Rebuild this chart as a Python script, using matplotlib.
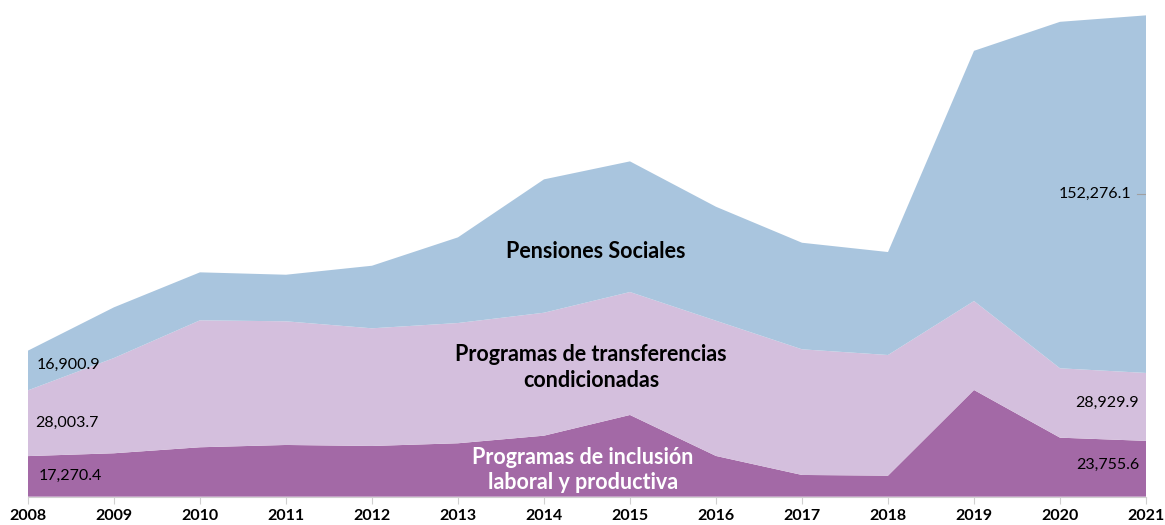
import matplotlib.pyplot as plt
import numpy as np

years = [2008, 2009, 2010, 2011, 2012, 2013, 2014, 2015, 2016, 2017, 2018, 2019, 2020, 2021]
# millones de soles
inclusion = [17270.4, 18475, 21030, 22009, 21583, 22732, 25968, 34780, 17326, 9238, 8940, 45422, 25116, 23755.6]
transferencias = [28003.7, 40570, 54064, 52659, 50105, 51212, 52361, 52361, 57597, 53510, 51382, 37888, 29544, 28929.9]
pensiones = [16900.9, 21583, 20433, 19837, 26649, 36483, 56788, 55639, 48530, 45380, 43847, 106552, 147548, 152276.1]

colors = ['#A369A6', '#D4BFDD', '#A9C5DE']

plt.rcParams['font.family'] = ['Lato', 'DejaVu Sans']

fig = plt.figure(figsize=(11.65, 5.25), dpi=100)
ax = fig.add_axes([0.024, 0.054, 0.9597, 0.946])

ax.stackplot(years, inclusion, transferencias, pensiones, colors=colors, linewidth=0)

ax.set_xlim(years[0], years[-1])
ax.set_ylim(0, 211500)
ax.set_xticks(years)
ax.set_xticklabels([str(y) for y in years], fontsize=11.5, fontweight='bold')
ax.set_yticks([])
for s in ['top', 'right', 'left']:
    ax.spines[s].set_visible(False)
ax.spines['bottom'].set_color('#D0D0D0')
ax.tick_params(axis='x', length=5, color='#D0D0D0', pad=4)

def fmt(v):
    return f"{v:,.1f}"

# etiquetas de valores 2008
c0 = np.cumsum([inclusion[0], transferencias[0], pensiones[0]])
ax.text(2008.12, inclusion[0] / 2, fmt(inclusion[0]), fontsize=11.5, va='center', ha='left')
ax.text(2008.08, c0[0] + transferencias[0] / 2, fmt(transferencias[0]), fontsize=11.5, va='center', ha='left')
ax.text(2008.1, c0[1] + pensiones[0] / 2 + 2500, fmt(pensiones[0]), fontsize=11.5, va='center', ha='left')

# etiquetas de valores 2021
c1 = np.cumsum([inclusion[-1], transferencias[-1], pensiones[-1]])
ax.text(2020.92, inclusion[-1] / 2 + 1500, fmt(inclusion[-1]), fontsize=11.5, va='center', ha='right')
ax.text(2020.92, c1[0] + transferencias[-1] / 2 + 1500, fmt(transferencias[-1]), fontsize=11.5, va='center', ha='right')
ax.text(2020.83, c1[1] + pensiones[-1] / 2, fmt(pensiones[-1]), fontsize=11.5, va='center', ha='right')
ax.plot([2020.9, 2021], [c1[1] + pensiones[-1] / 2] * 2, color='#A0A0A0', lw=0.8)

# nombres de series
ax.text(2014.6, 104500, 'Pensiones Sociales', fontsize=15.5, fontweight='bold', ha='center', va='center')
ax.text(2014.55, 55000, 'Programas de transferencias\ncondicionadas', fontsize=15.5, fontweight='bold',
        ha='center', va='center', linespacing=1.25)
ax.text(2014.45, 11500, 'Programas de inclusión\nlaboral y productiva', fontsize=15.5, fontweight='bold',
        ha='center', va='center', color='white', linespacing=1.25)

fig.savefig('out.png', dpi=100)
